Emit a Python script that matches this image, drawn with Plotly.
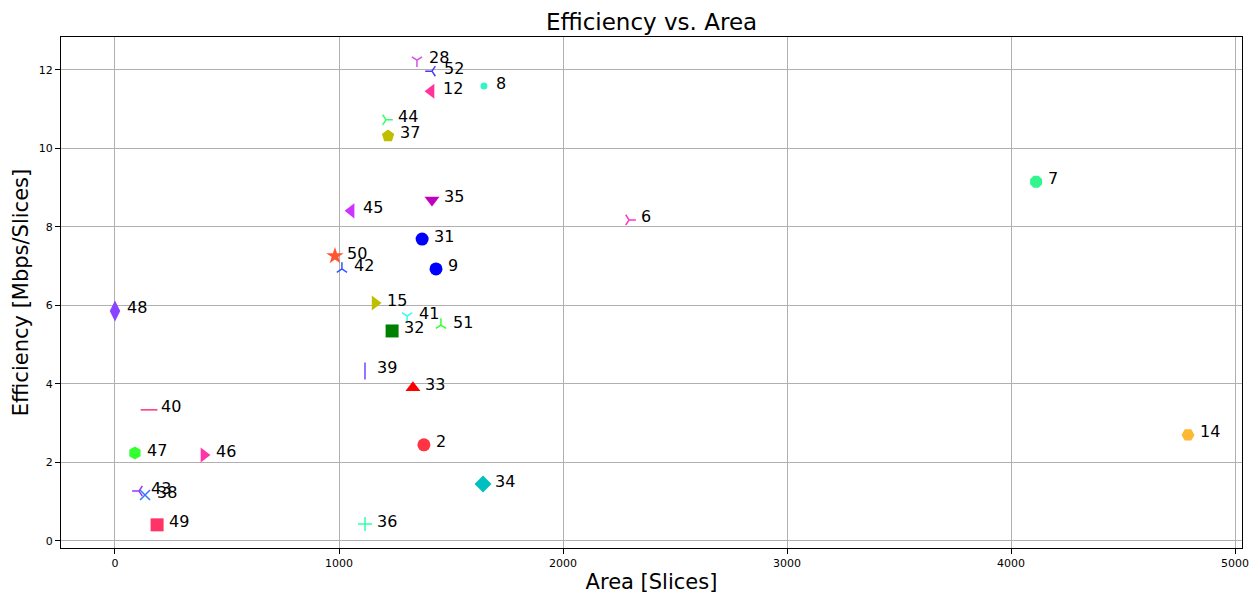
import plotly.graph_objects as go

labels = ["28", "52", "12", "8", "44", "37", "35", "45", "6", "7", "31", "9", "50", "42",
          "48", "15", "41", "51", "32", "39", "33", "40", "47", "46", "2", "14", "34",
          "43", "38", "49", "36"]
area = [1348, 1415, 1411, 1647, 1210, 1219, 1415, 1054, 2295, 4112, 1371, 1433, 982, 1013,
        0, 1161, 1304, 1455, 1237, 1116, 1330, 152, 89, 397, 1379, 4790, 1643,
        107, 134, 188, 1116]
efficiency = [12.25, 11.97, 11.46, 11.59, 10.73, 10.32, 8.69, 8.41, 8.18, 9.15, 7.69, 6.93, 7.26, 6.93,
              5.86, 6.06, 5.73, 5.50, 5.35, 4.33, 3.90, 3.34, 2.24, 2.19, 2.45, 2.70, 1.45,
              1.27, 1.17, 0.41, 0.43]
symbols = ["y-down", "y-left", "triangle-left", "circle", "y-right", "pentagon", "triangle-down",
           "triangle-left", "y-right", "octagon", "circle", "circle", "star", "y-up",
           "diamond-tall", "triangle-right", "y-down", "y-up", "square", "line-ns", "triangle-up",
           "line-ew", "hexagon", "triangle-right", "circle", "hexagon2", "diamond",
           "y-left", "x-thin", "square", "cross-thin"]
colors = ["#d64cf0", "#4a3cf0", "#ff3399", "#33f5c8", "#33ff66", "#bfbf00", "#bf00bf",
          "#cc33ff", "#ff33cc", "#33f590", "#0000ff", "#0000ff", "#ff5533", "#3355ff",
          "#8844ff", "#bfbf00", "#33ffee", "#33ff33", "#008000", "#7744ff", "#ff0000",
          "#ff3377", "#33ff33", "#ff33aa", "#ff3344", "#ffb833", "#00bfbf",
          "#9933ff", "#3377ff", "#ff3366", "#33ffaa"]

y_syms = {"y-down", "y-up", "y-left", "y-right"}
thin_syms = {"line-ns", "line-ew", "x-thin", "cross-thin"}
sizes = []
lw = []
for s, lab in zip(symbols, labels):
    if s in y_syms:
        sizes.append(8.5)
        lw.append(1.5)
    elif s in ("line-ns", "line-ew"):
        sizes.append(12)
        lw.append(1.5)
    elif s in thin_syms:
        sizes.append(10)
        lw.append(1.5)
    elif lab == "8":
        sizes.append(7)
        lw.append(0)
    elif s == "diamond-tall":
        sizes.append(15)
        lw.append(0)
    else:
        sizes.append(13)
        lw.append(0)

W, H = 1255, 596

fig = go.Figure()
fig.add_trace(go.Scatter(
    x=area, y=efficiency, mode="markers",
    marker=dict(symbol=symbols, color=colors, size=sizes, opacity=1,
                line=dict(color=colors, width=lw)),
    showlegend=False, hoverinfo="skip",
))

for x, y, t in zip(area, efficiency, labels):
    fig.add_annotation(x=x, y=y, text=t, showarrow=False, xanchor="left", yanchor="middle",
                       xshift=10, yshift=3, font=dict(size=16, color="black"))

axis_common = dict(showline=True, linecolor="black", linewidth=1, mirror=True,
                   ticks="outside", ticklen=5, tickcolor="black", tickwidth=1,
                   showgrid=True, gridcolor="#b0b0b0", gridwidth=1, zeroline=False,
                   automargin=False, tickfont=dict(size=11, color="black"))

fig.update_layout(
    width=W, height=H,
    margin=dict(l=61, r=13, t=37, b=48),
    paper_bgcolor="white", plot_bgcolor="white",
    font=dict(family="DejaVu Sans", color="black"),
    title=dict(text="Efficiency vs. Area", xref="paper", x=0.5, xanchor="center",
               y=1 - 22 / H, yanchor="middle", font=dict(size=23)),
    xaxis=dict(range=[-241, 5031], tickvals=[0, 1000, 2000, 3000, 4000, 5000],
               title=dict(text="Area [Slices]", font=dict(size=21), standoff=5), **axis_common),
    yaxis=dict(range=[-0.18, 12.84], tickvals=[0, 2, 4, 6, 8, 10, 12],
               title=dict(text="Efficiency [Mbps/Slices]", font=dict(size=21), standoff=4),
               **axis_common),
)

fig.write_html("out.html", config={"displayModeBar": False},
               post_script="document.body.style.margin='0px';document.body.style.overflow='hidden';")
